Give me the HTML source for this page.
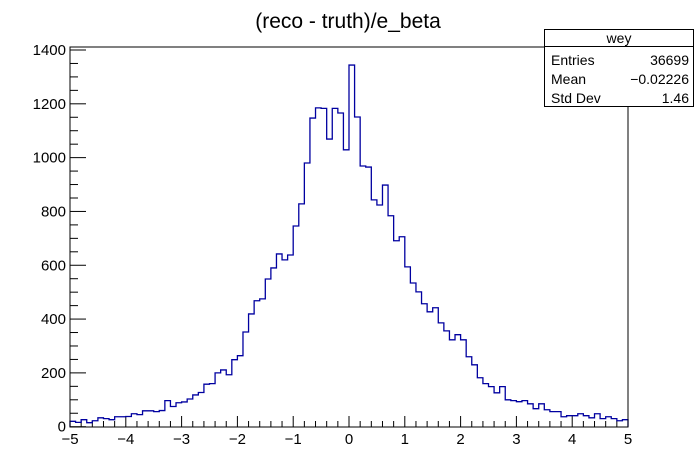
<!DOCTYPE html>
<html><head><meta charset="utf-8"><style>
html,body{margin:0;padding:0;background:#fff;}
svg{display:block;font-family:"Liberation Sans",sans-serif;}
</style></head><body>
<svg id="c" width="698" height="475" viewBox="0 0 698 475">
<rect x="0" y="0" width="698" height="475" fill="#fff"/>
<text x="348" y="28" font-size="21" text-anchor="middle">(reco - truth)/e_beta</text>
<g id="axes"></g>
<path id="hist" fill="none" stroke="#0000a0" stroke-width="1.3"/>
<rect x="70" y="47" width="558" height="380" fill="none" stroke="#000" stroke-width="1"/>
<g>
<rect x="544.5" y="29.5" width="149" height="77" fill="#fff" stroke="#000"/>
<line x1="544.5" y1="46.5" x2="693.5" y2="46.5" stroke="#000"/>
<text x="619" y="43" font-size="14" text-anchor="middle">wey</text>
<text x="551" y="65" font-size="14">Entries</text><text x="689" y="65" font-size="14" text-anchor="end">36699</text>
<text x="551" y="84" font-size="14">Mean</text><text x="689" y="84" font-size="14" text-anchor="end">−0.02226</text>
<text x="551" y="103" font-size="14">Std Dev</text><text x="689" y="103" font-size="14" text-anchor="end">1.46</text>
</g>
</svg>
<script>
const xMin=-5, xMax=5;
const yMin=0, yMax=1400;
const xTickLabels=["−5","−4","−3","−2","−1","0","1","2","3","4","5"];
const yTickLabels=["0","200","400","600","800","1000","1200","1400"];
const binCounts=[20,16,26,15,22,33,30,26,37,37,38,48,45,59,59,56,60,97,75,89,
92,103,118,127,158,160,200,211,193,249,264,352,419,468,475,549,590,642,620,638,
746,828,980,1147,1185,1183,1069,1183,1166,1029,1344,1151,969,965,843,824,898,784,691,706,
594,534,501,457,427,442,386,356,323,342,323,260,230,182,160,149,126,149,100,97,
93,97,85,67,85,63,56,56,37,41,41,48,41,33,48,30,37,30,22,26];
const L=70,R=628,T=47,B=427,Y0=426.7,Y1400=50;
function sx(v){return L+(v-xMin)/(xMax-xMin)*(R-L);}
function sy(v){return Y0-(v-yMin)/(yMax-yMin)*(Y0-Y1400);}
const ns="http://www.w3.org/2000/svg";
const ax=document.getElementById('axes');
function mk(tag,attrs){const e=document.createElementNS(ns,tag);for(const k in attrs)e.setAttribute(k,attrs[k]);ax.appendChild(e);return e;}
// x ticks
for(let i=0;i<=50;i++){
  const v=xMin+i*0.2;const x=sx(v);const major=i%5===0;
  const t=mk('line',{x1:x,y1:B,x2:x,y2:B-(major?11:6),stroke:'#000'});
  
  
}
xTickLabels.forEach((s,i)=>{
  const t=mk('text',{x:sx(xMin+i),y:444,'font-size':15,'text-anchor':'middle'});t.textContent=s;
  
  
});
// y ticks
for(let v=0;v<=yMax;v+=50){
  const y=sy(v);const major=v%200===0;
  const t=mk('line',{x1:L,y1:y,x2:L+(major?16:8),y2:y,stroke:'#000'});
  
  
}
yTickLabels.forEach((s,i)=>{
  const t=mk('text',{x:66,y:sy(i*200)+5,'font-size':15,'text-anchor':'end'});t.textContent=s;
  
  
});
// histogram
const w=(xMax-xMin)/binCounts.length;
let d='M'+sx(xMin)+','+sy(0);
binCounts.forEach((c,i)=>{const x0=sx(xMin+i*w),x1=sx(xMin+(i+1)*w);d+=' L'+x0+','+sy(c)+' L'+x1+','+sy(c);});
d+=' L'+sx(xMax)+','+sy(0);
document.getElementById('hist').setAttribute('d',d);
</script>
</body></html>
